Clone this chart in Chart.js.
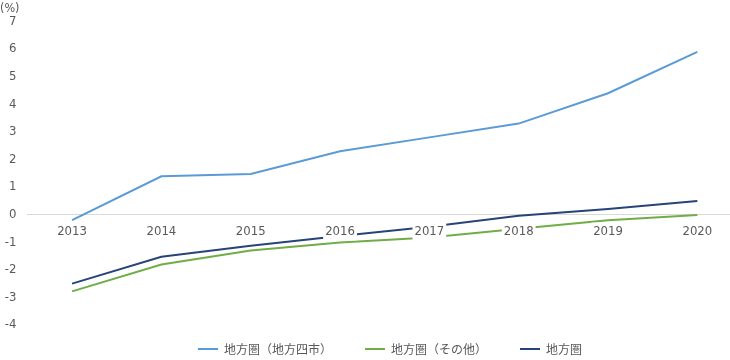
<!DOCTYPE html>
<html>
<head>
<meta charset="utf-8">
<script src="https://cdn.jsdelivr.net/npm/chart.js@4/dist/chart.umd.min.js"></script>
<style>
html,body{margin:0;padding:0;background:#fff;overflow:hidden;}
#wrap{width:730px;height:360px;overflow:hidden;position:relative;}
canvas{display:block;}
</style>
</head>
<body>
<div id="wrap"><canvas id="c" width="742" height="365"></canvas></div>
<script>
// ---- data ----
const years = ['2013', '2014', '2015', '2016', '2017', '2018', '2019', '2020'];
const regionalFourCities = [-0.2, 1.39, 1.47, 2.3, 2.8, 3.3, 4.4, 5.9];
const regionalOther = [-2.78, -1.81, -1.3, -1.01, -0.83, -0.51, -0.2, -0.01];
const regionalTotal = [-2.5, -1.53, -1.13, -0.77, -0.44, -0.04, 0.2, 0.49];
const seriesNames = ['地方圏（地方四市）', '地方圏（その他）', '地方圏'];
const yTicks = { min: -4, max: 7, step: 1 };
const unitLabel = '(%)';

const numFont = '"Liberation Sans Narrow", "DejaVu Sans Condensed", Roboto, sans-serif';
const cjkFont = '"Noto Sans CJK JP", "Noto Sans", sans-serif';
const textColor = '#595959';

const legendShift = {
  id: 'legendShift',
  afterLayout(chart) {
    if (chart.legend) { chart.legend.left += 19; chart.legend.right += 19; }
  }
};

new Chart(document.getElementById('c'), {
  type: 'line',
  data: {
    labels: years,
    datasets: [
      { label: seriesNames[0], data: regionalFourCities, borderColor: '#5b9bd5', backgroundColor: '#5b9bd5' },
      { label: seriesNames[1], data: regionalOther, borderColor: '#70ad47', backgroundColor: '#70ad47' },
      { label: seriesNames[2], data: regionalTotal, borderColor: '#264478', backgroundColor: '#264478' }
    ]
  },
  options: {
    responsive: false,
    animation: false,
    devicePixelRatio: 1,
    elements: {
      line: { borderWidth: 2, tension: 0, fill: false },
      point: { radius: 0, hoverRadius: 0 }
    },
    layout: { padding: { left: 0, right: 0, top: 0, bottom: 0 } },
    scales: {
      x: {
        position: { y: 0 },
        offset: true,
        grid: { display: false, drawTicks: false },
        border: { display: true, color: '#d9d9d9', width: 1 },
        ticks: {
          z: 1,
          color: textColor,
          font: { family: numFont, size: 13 },
          padding: 9,
          maxRotation: 0,
          autoSkip: false,
          showLabelBackdrop: true,
          backdropColor: '#ffffff',
          backdropPadding: { x: 2, y: 1 }
        }
      },
      y: {
        min: yTicks.min,
        max: yTicks.max,
        grid: { display: false, drawTicks: false },
        border: { display: false },
        afterFit(scale) { scale.width = 27.4; },
        ticks: {
          stepSize: yTicks.step,
          color: textColor,
          font: { family: numFont, size: 13 },
          padding: 11
        }
      }
    },
    plugins: {
      title: {
        display: true,
        text: unitLabel,
        align: 'start',
        color: textColor,
        font: { family: numFont, size: 12.5, weight: 'normal', lineHeight: 1 },
        padding: { top: 2, bottom: 7 }
      },
      legend: {
        position: 'bottom',
        title: { display: true, text: '', font: { size: 1, lineHeight: 1 }, padding: { top: -16, bottom: 0 } },
        labels: {
          boxWidth: 20,
          boxHeight: 2,
          padding: 33,
          color: textColor,
          font: { family: cjkFont, size: 12 },
          generateLabels(chart) {
            const items = Chart.defaults.plugins.legend.labels.generateLabels(chart);
            items.forEach(i => { i.lineWidth = 0; i.fillStyle = i.strokeStyle; });
            return items;
          }
        }
      },
      tooltip: { enabled: false }
    }
  },
  plugins: [legendShift]
});
</script>
</body>
</html>
